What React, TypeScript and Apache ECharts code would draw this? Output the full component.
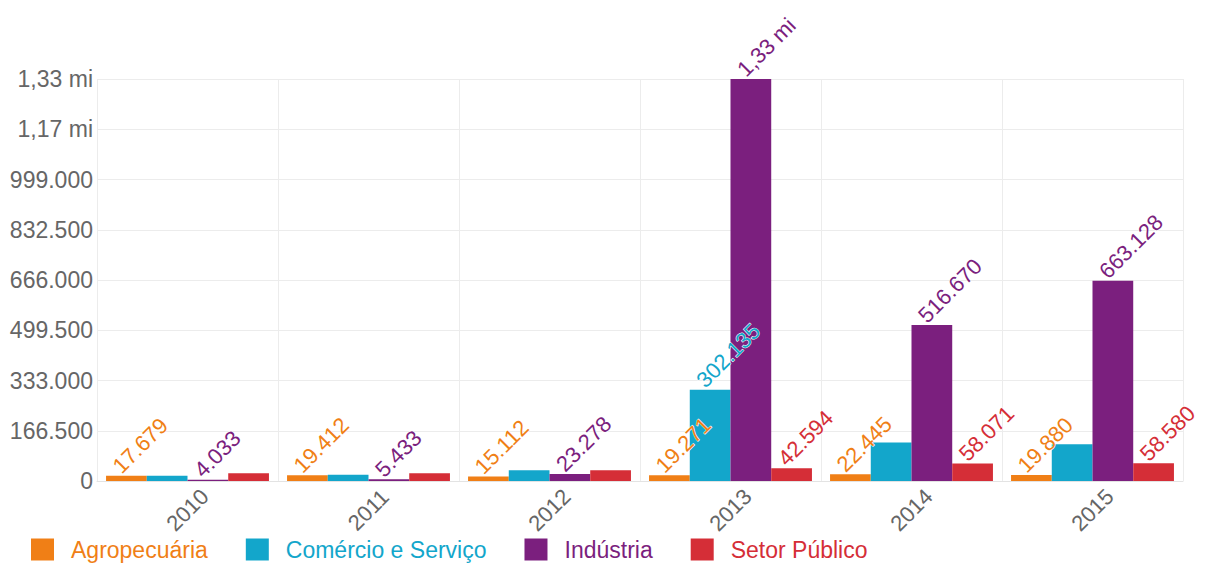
import React, { useEffect, useRef } from "react";
import * as echarts from "echarts";

const categories = ["2010", "2011", "2012", "2013", "2014", "2015"];
const agro = [17679, 19412, 15112, 19271, 22445, 19880];
const comercio = [17000, 20700, 35600, 302135, 127600, 122000];
const industria = [4033, 5433, 23278, 1332000, 516670, 663128];
const setor = [25500, 26000, 35600, 42594, 58071, 58580];

const agroLabels = [true, true, true, true, true, true];
const comercioLabels = [false, false, false, true, false, false];
const industriaLabels = [true, true, true, true, true, true];
const setorLabels = [false, false, false, true, true, true];

const names = ["Agropecuária", "Comércio e Serviço", "Indústria", "Setor Público"];
const colors = ["#F07F16", "#13A6CB", "#7B1F7E", "#D52E37"];

const fmt = (v: number) => {
  if (v >= 1000000) return (v / 1000000).toFixed(2).replace(".", ",") + " mi";
  return String(Math.round(v)).replace(/\B(?=(\d{3})+(?!\d))/g, ".");
};

export default function App() {
  const ref = useRef<HTMLDivElement>(null);
  useEffect(() => {
    if (!ref.current) return;
    const chart = echarts.init(ref.current, undefined, { renderer: "svg" });
    const datasets = [agro, comercio, industria, setor];
    const shows = [agroLabels, comercioLabels, industriaLabels, setorLabels];
    const font = "Liberation Sans, Arial, sans-serif";
    chart.setOption({
      animation: false,
      backgroundColor: "#fff",
      textStyle: { fontFamily: font },
      grid: { left: 97, right: 31, top: 79, bottom: 84, containLabel: false },
      legend: {
        left: 26,
        top: 533,
        itemWidth: 23,
        itemHeight: 22,
        itemGap: 38,
        icon: "rect",
        textStyle: { fontSize: 23, fontFamily: font, padding: [0, 0, 0, 12] },
        data: names.map((n, i) => ({ name: n, textStyle: { color: colors[i] } })),
      },
      xAxis: {
        type: "category",
        data: categories,
        axisLine: { show: true, lineStyle: { color: "#e3e3e3" } },
        axisTick: { show: false },
        splitLine: { show: true, lineStyle: { color: "#ececec" } },
        axisLabel: {
          rotate: 45,
          interval: 0,
          margin: 29,
          align: "center",
          verticalAlign: "middle",
          color: "#666",
          fontSize: 22,
          fontFamily: font,
        },
      },
      yAxis: {
        type: "value",
        min: 0,
        max: 1332000,
        interval: 166500,
        axisLine: { show: false },
        axisTick: { show: false },
        splitLine: { lineStyle: { color: "#ececec" } },
        axisLabel: {
          margin: 4,
          color: "#666",
          fontSize: 23,
          fontFamily: font,
          formatter: (v: number) => fmt(v),
        },
      },
      series: names.map((n, i) => ({
        name: n,
        type: "bar",
        barGap: "0%",
        barCategoryGap: "10%",
        itemStyle: { color: colors[i] },
        data: datasets[i].map((v, j) => ({
          value: v,
          label: { show: shows[i][j] },
        })),
        label: {
          position: "top",
          rotate: 45,
          align: "left",
          verticalAlign: "middle",
          distance: 2,
          offset: [-4, -10],
          color: colors[i],
          fontSize: 22,
          fontFamily: font,
          textBorderColor: "#fff",
          textBorderWidth: 1,
          formatter: (p: any) => fmt(p.value),
        },
      })),
    });
    return () => chart.dispose();
  }, []);
  return <div ref={ref} style={{ width: 1214, height: 565, position: "absolute", left: 0, top: 0 }} />;
}
